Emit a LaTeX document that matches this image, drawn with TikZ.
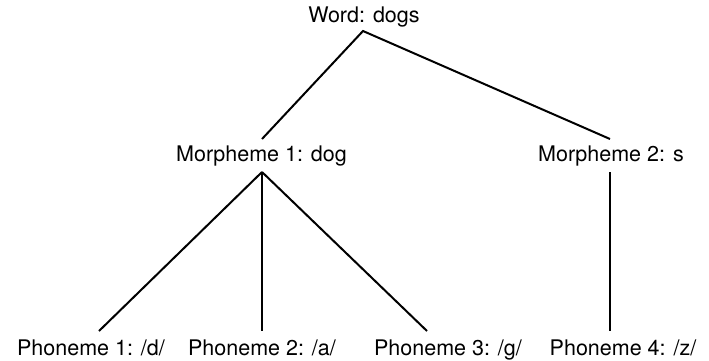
\documentclass[tikz,border=0pt]{standalone}
\usepackage{fontspec}
\setmainfont{TeX Gyre Heros}
\begin{document}
\begin{tikzpicture}[x=1pt,y=-1pt,
  lbl/.style={anchor=base,inner sep=0pt,font=\fontsize{21.5}{25}\selectfont},
  edge/.style={line width=2pt}]
\useasboundingbox (0,0) rectangle (709,360);
\node[lbl] (w) at (364,22) {Word: dogs};
\node[lbl] (m1) at (261.5,161) {Morpheme 1: dog};
\node[lbl] (m2) at (611,161) {Morpheme 2: s};
\node[lbl] (p1) at (91,355) {Phoneme 1: /d/};
\node[lbl] (p2) at (262,355) {Phoneme 2: /a/};
\node[lbl] (p3) at (448,355) {Phoneme 3: /g/};
\node[lbl] (p4) at (623,355) {Phoneme 4: /z/};
\coordinate (wb) at (363,31);
\coordinate (m1t) at (262,139);
\coordinate (m2t) at (610,139);
\coordinate (m1b) at (262,172);
\coordinate (m2b) at (610,172);
\coordinate (p1t) at (99,331);
\coordinate (p2t) at (262,331);
\coordinate (p3t) at (427,331);
\coordinate (p4t) at (610,331);
\draw[edge] (m1t) -- (wb) -- (m2t);
\draw[edge] (m1b) -- (p1t);
\draw[edge] (m1b) -- (p2t);
\draw[edge] (m1b) -- (p3t);
\draw[edge] (m2b) -- (p4t);
\end{tikzpicture}
\end{document}
